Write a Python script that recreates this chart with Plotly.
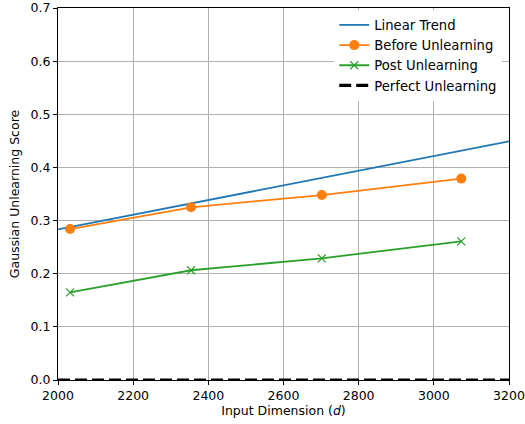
import plotly.graph_objects as go

dims = [2032, 2354, 2702, 3073]
before = [0.284, 0.325, 0.348, 0.379]
post = [0.165, 0.2065, 0.229, 0.261]
trend_x = [2000, 3200]
trend_y = [0.2835, 0.449]
perfect_x = [2000, 3200]
perfect_y = [0.0, 0.0]

fig = go.Figure()
fig.add_trace(go.Scatter(x=trend_x, y=trend_y, mode="lines", name="Linear Trend",
                         line=dict(color="#1f77b4", width=1.8)))
fig.add_trace(go.Scatter(x=dims, y=before, mode="lines+markers", name="Before Unlearning",
                         line=dict(color="#ff7f0e", width=1.8),
                         marker=dict(symbol="circle", size=10, color="#ff7f0e")))
fig.add_trace(go.Scatter(x=dims, y=post, mode="lines+markers", name="Post Unlearning",
                         line=dict(color="#2ca02c", width=1.8),
                         marker=dict(symbol="x-thin", size=8, line=dict(color="#2ca02c", width=1.2))))
fig.add_trace(go.Scatter(x=perfect_x, y=perfect_y, mode="lines", name="Perfect Unlearning",
                         line=dict(color="black", width=3.2, dash="12px,5px"), cliponaxis=False))

FS = 12.5
axis_common = dict(showline=True, linecolor="black", linewidth=1, mirror=True,
                   ticks="outside", ticklen=4, tickcolor="black", showgrid=True,
                   gridcolor="#b0b0b0", gridwidth=0.8, zeroline=False, automargin=False,
                   tickfont=dict(family="DejaVu Sans", size=FS, color="black"))

fig.update_layout(
    width=525, height=424,
    margin=dict(l=58, r=16, t=8, b=44),
    paper_bgcolor="white", plot_bgcolor="white",
    font=dict(family="DejaVu Sans", size=FS, color="black"),
    xaxis=dict(range=[2000, 3200], dtick=200,
               title=dict(text="Input Dimension (<i>d</i>)", font=dict(size=FS), standoff=4),
               **axis_common),
    yaxis=dict(range=[0, 0.7], dtick=0.1, tickformat=".1f",
               title=dict(text="Gaussian Unlearning Score", font=dict(size=FS), standoff=8),
               **axis_common),
    legend=dict(x=0.985, y=0.995, xanchor="right", yanchor="top",
                bgcolor="white", borderwidth=0, font=dict(size=13.2)),
    showlegend=True,
)

fig.write_html("out.html", config={"displayModeBar": False},
               post_script="document.body.style.margin='0';")
